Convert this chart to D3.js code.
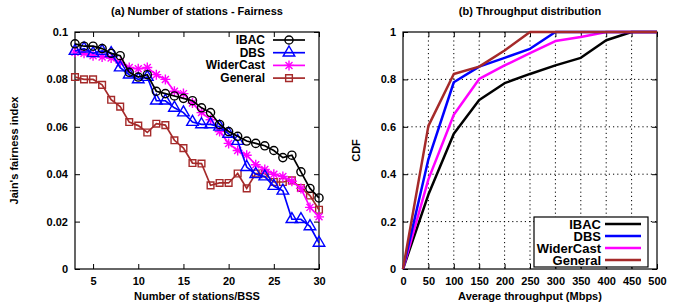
<!DOCTYPE html>
<html>
<head>
<meta charset="utf-8">
<script src="https://cdn.jsdelivr.net/npm/d3@7"></script>
<style>
  body { margin: 0; background: #fff; }
  text { font-family: "Liberation Sans", Arial, sans-serif; font-weight: bold; }
</style>
</head>
<body>
<svg id="chart" width="677" height="308"></svg>
<script>
// (a) fairness vs number of stations
const stations = [3, 4, 5, 6, 7, 8, 9, 10, 11, 12, 13, 14, 15, 16, 17, 18, 19, 20, 21, 22, 23, 24, 25, 26, 27, 28, 29, 30];
const ibacFair = [0.095, 0.094, 0.094, 0.093, 0.091, 0.090, 0.083, 0.081, 0.082, 0.075, 0.074, 0.073, 0.072, 0.071, 0.068, 0.066, 0.061, 0.058, 0.056, 0.054, 0.053, 0.052, 0.050, 0.047, 0.048, 0.041, 0.034, 0.030];
const dbsFair = [0.092, 0.093, 0.091, 0.092, 0.091, 0.085, 0.082, 0.080, 0.081, 0.071, 0.071, 0.068, 0.066, 0.062, 0.061, 0.061, 0.060, 0.057, 0.054, 0.043, 0.040, 0.039, 0.035, 0.033, 0.021, 0.021, 0.018, 0.011];
const widerFair = [0.0915, 0.091, 0.090, 0.0895, 0.089, 0.087, 0.085, 0.0845, 0.085, 0.082, 0.080, 0.075, 0.074, 0.070, 0.066, 0.063, 0.058, 0.053, 0.050, 0.048, 0.044, 0.042, 0.040, 0.039, 0.037, 0.034, 0.026, 0.022];
const generalFair = [0.081, 0.080, 0.080, 0.0777, 0.0714, 0.0685, 0.062, 0.0605, 0.0576, 0.0613, 0.0607, 0.0543, 0.051, 0.0447, 0.0445, 0.0353, 0.0363, 0.0363, 0.0403, 0.034, 0.0403, 0.0403, 0.0367, 0.0367, 0.0374, 0.0342, 0.031, 0.025];

// (b) throughput CDF
const throughput = [0, 50, 100, 150, 200, 250, 300, 350, 400, 450, 500];
const ibacCdf = [0, 0.314, 0.571, 0.713, 0.784, 0.823, 0.859, 0.891, 0.965, 1, 1];
const dbsCdf = [0, 0.463, 0.788, 0.854, 0.891, 0.929, 1, 1, 1, 1, 1];
const widerCdf = [0, 0.378, 0.651, 0.802, 0.859, 0.911, 0.962, 0.979, 1, 1, 1];
const generalCdf = [0, 0.604, 0.823, 0.854, 0.922, 1, 1, 1, 1, 1, 1];

const seriesNames = ["IBAC", "DBS", "WiderCast", "General"];
const seriesColors = ["#000000", "#0000ff", "#ff00ff", "#a52a2a"];

const svg = d3.select("#chart");

// asterisk marker (plus + cross)
function starPath(s) {
    const d = s * 0.7;
    return `M${-s},0L${s},0M0,${-s}L0,${s}M${-d},${-d}L${d},${d}M${-d},${d}L${d},${-d}`;
}
function markerPath(i) {
    if (i === 0) return d3.symbol(d3.symbolCircle, 52)();
    if (i === 1) return d3.symbol(d3.symbolTriangle, 58)();
    if (i === 2) return starPath(5);
    return d3.symbol(d3.symbolSquare, 45)();
}

function frameAxes(g, x, y, w, h, xTicks, yTicks, yFmt) {
    g.append("g")
        .attr("transform", `translate(0,${h})`)
        .call(d3.axisBottom(x).tickValues(xTicks).tickSize(-5).tickSizeOuter(0).tickPadding(8))
        .call(a => a.select(".domain").remove());
    g.append("g")
        .call(d3.axisTop(x).tickValues(xTicks).tickSize(-5).tickSizeOuter(0).tickFormat(""))
        .call(a => a.select(".domain").remove());
    g.append("g")
        .call(d3.axisLeft(y).tickValues(yTicks).tickSize(-5).tickSizeOuter(0).tickPadding(7).tickFormat(yFmt))
        .call(a => a.select(".domain").remove());
    g.append("g")
        .attr("transform", `translate(${w},0)`)
        .call(d3.axisRight(y).tickValues(yTicks).tickSize(-5).tickSizeOuter(0).tickFormat(""))
        .call(a => a.select(".domain").remove());
    g.selectAll(".tick text").style("font-size", "11px").attr("fill", "#000");
    g.append("rect")
        .attr("width", w).attr("height", h)
        .attr("fill", "none").attr("stroke", "#000").attr("stroke-width", 1.2);
}

// ---------- left chart ----------
{
    const m = {left: 75, top: 32}, w = 244, h = 237;
    const g = svg.append("g").attr("transform", `translate(${m.left},${m.top})`);
    const x = d3.scaleLinear().domain([3, 30]).range([0, w]);
    const y = d3.scaleLinear().domain([0, 0.1]).range([h, 0]);
    const fmt = d => d === 0 ? "0" : d3.format("~g")(d);

    frameAxes(g, x, y, w, h, [5, 10, 15, 20, 25, 30], [0, 0.02, 0.04, 0.06, 0.08, 0.1], fmt);

    const data = [ibacFair, dbsFair, widerFair, generalFair];
    const line = d3.line().x((d, i) => x(stations[i])).y(d => y(d));
    // draw General first so IBAC stays on top
    [3, 2, 1, 0].forEach(k => {
        const col = seriesColors[k];
        g.append("path").datum(data[k])
            .attr("d", line).attr("fill", "none")
            .attr("stroke", col).attr("stroke-width", 1.7);
        g.selectAll(null).data(data[k]).join("path")
            .attr("transform", (d, i) => `translate(${x(stations[i])},${y(d)})`)
            .attr("d", markerPath(k))
            .attr("fill", "none").attr("stroke", col).attr("stroke-width", 1.4);
    });

    g.append("text")
        .attr("x", w / 2).attr("y", -17)
        .attr("text-anchor", "middle").style("font-size", "11px")
        .text("(a) Number of stations - Fairness");
    g.append("text")
        .attr("x", w / 2).attr("y", h + 31)
        .attr("text-anchor", "middle").style("font-size", "11px")
        .text("Number of stations/BSS");
    g.append("text")
        .attr("transform", `translate(${-57},${h / 2}) rotate(-90)`)
        .attr("text-anchor", "middle").style("font-size", "11px")
        .text("Jain's fairness index");

    // legend
    const leg = g.append("g").attr("transform", "translate(190,8)");
    seriesNames.forEach((name, k) => {
        const ly = k * 12.7;
        leg.append("text").attr("x", 0).attr("y", ly + 4)
            .attr("text-anchor", "end").style("font-size", "12px").text(name);
        leg.append("line").attr("x1", 8).attr("x2", 40).attr("y1", ly).attr("y2", ly)
            .attr("stroke", seriesColors[k]).attr("stroke-width", 1.7);
        leg.append("path").attr("transform", `translate(24,${ly})`)
            .attr("d", markerPath(k))
            .attr("fill", "none").attr("stroke", seriesColors[k]).attr("stroke-width", 1.4);
    });
}

// ---------- right chart ----------
{
    const m = {left: 403, top: 32}, w = 254, h = 237;
    const g = svg.append("g").attr("transform", `translate(${m.left},${m.top})`);
    const x = d3.scaleLinear().domain([0, 500]).range([0, w]);
    const y = d3.scaleLinear().domain([0, 1]).range([h, 0]);
    const xt = [0, 50, 100, 150, 200, 250, 300, 350, 400, 450, 500];
    const yt = [0, 0.2, 0.4, 0.6, 0.8, 1];

    // dotted grid
    g.append("g").selectAll("line").data(xt.slice(1, -1)).join("line")
        .attr("x1", d => x(d)).attr("x2", d => x(d)).attr("y1", 0).attr("y2", h)
        .attr("stroke", "#000").attr("stroke-width", 1).attr("stroke-dasharray", "1.2,3");
    g.append("g").selectAll("line").data(yt.slice(1, -1)).join("line")
        .attr("y1", d => y(d)).attr("y2", d => y(d)).attr("x1", 0).attr("x2", w)
        .attr("stroke", "#000").attr("stroke-width", 1).attr("stroke-dasharray", "1.2,3");

    frameAxes(g, x, y, w, h, xt, yt, d3.format("~g"));

    const data = [ibacCdf, dbsCdf, widerCdf, generalCdf];
    const line = d3.line().x((d, i) => x(throughput[i])).y(d => y(d));
    [0, 2, 1, 3].forEach(k => {
        g.append("path").datum(data[k])
            .attr("d", line).attr("fill", "none")
            .attr("stroke", seriesColors[k]).attr("stroke-width", 2.5)
            .attr("stroke-linejoin", "round");
    });

    g.append("text")
        .attr("x", w / 2).attr("y", -17)
        .attr("text-anchor", "middle").style("font-size", "11px")
        .text("(b) Throughput distribution");
    g.append("text")
        .attr("x", w / 2).attr("y", h + 31)
        .attr("text-anchor", "middle").style("font-size", "11px")
        .text("Average throughput (Mbps)");
    g.append("text")
        .attr("transform", `translate(${-43},${h / 2}) rotate(-90)`)
        .attr("text-anchor", "middle").style("font-size", "11px")
        .text("CDF");

    // legend
    const leg = g.append("g").attr("transform", `translate(${w - 123},${h - 52})`);
    leg.append("rect").attr("width", 114).attr("height", 50)
        .attr("fill", "#fff").attr("stroke", "#000").attr("stroke-width", 1.2);
    seriesNames.forEach((name, k) => {
        const ly = 7 + k * 12;
        leg.append("text").attr("x", 67).attr("y", ly + 4.5)
            .attr("text-anchor", "end").style("font-size", "13px").text(name);
        leg.append("line").attr("x1", 71).attr("x2", 107).attr("y1", ly).attr("y2", ly)
            .attr("stroke", seriesColors[k]).attr("stroke-width", 2.5);
    });
}
</script>
</body>
</html>
